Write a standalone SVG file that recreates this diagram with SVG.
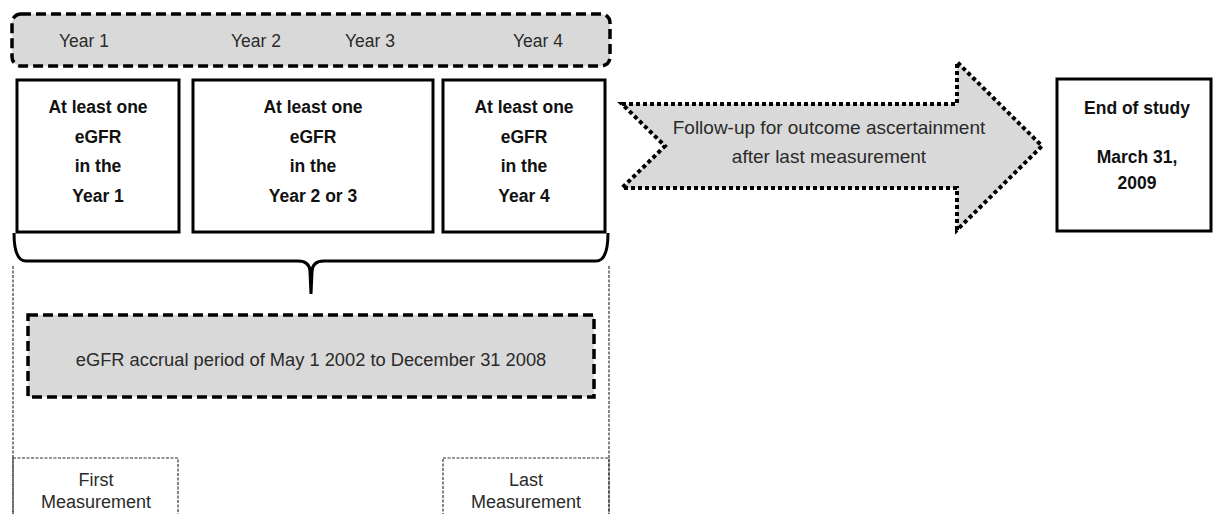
<svg xmlns="http://www.w3.org/2000/svg" width="1213" height="514" viewBox="0 0 1213 514">
<style>
text{font-family:"Liberation Sans",Arial,sans-serif;fill:#2a2a2a;text-anchor:middle}
.b{font-weight:bold;font-size:17.5px;fill:#111}
.n{font-size:17.5px}
.m{font-size:18px}
.solid{fill:#fff;stroke:#000;stroke-width:3}
.gdash{fill:#d9d9d9;stroke:#000;stroke-width:3.5;stroke-dasharray:10 5}
.thin{fill:none;stroke:#333;stroke-width:1.2;stroke-dasharray:3 1.5}
</style>
<rect width="1213" height="514" fill="#fff"/>
<g id="years">
<rect class="gdash" x="12" y="14" width="598" height="52" rx="9"/>
<text class="n" x="84" y="47">Year 1</text>
<text class="n" x="256" y="47">Year 2</text>
<text class="n" x="370" y="47">Year 3</text>
<text class="n" x="538" y="47">Year 4</text>
</g>
<g id="box1">
<rect class="solid" x="17" y="80" width="162" height="152"/>
<text class="b" x="98" y="113">At least one</text>
<text class="b" x="98" y="143">eGFR</text>
<text class="b" x="98" y="172">in the</text>
<text class="b" x="98" y="202">Year 1</text>
</g>
<g id="box2">
<rect class="solid" x="193" y="80" width="240" height="152"/>
<text class="b" x="313" y="113">At least one</text>
<text class="b" x="313" y="143">eGFR</text>
<text class="b" x="313" y="172">in the</text>
<text class="b" x="313" y="202">Year 2 or 3</text>
</g>
<g id="box3">
<rect class="solid" x="443" y="80" width="162" height="152"/>
<text class="b" x="524" y="113">At least one</text>
<text class="b" x="524" y="143">eGFR</text>
<text class="b" x="524" y="172">in the</text>
<text class="b" x="524" y="202">Year 4</text>
</g>
<g id="followup">
<polygon points="622,104 957,104 957,62 1042,146 957,230 957,188 622,188 665,146" fill="#d9d9d9" stroke="#000" stroke-width="4" stroke-dasharray="4 3"/>
<text class="n" x="829" y="134" style="font-size:19px">Follow-up for outcome ascertainment</text>
<text class="n" x="829" y="163" style="font-size:19px">after last measurement</text>
</g>
<g id="end">
<rect class="solid" x="1057" y="79" width="154" height="152"/>
<text class="b" x="1137" y="114">End of study</text>
<text class="b" x="1137" y="163">March 31,</text>
<text class="b" x="1137" y="189">2009</text>
</g>
<g id="connectors">
<path d="M14,233 Q14,261 26,261 L298,261 Q310,261 310,272 L311,294 L312,272 Q312,261 324,261 L596,261 Q608,261 608,233" fill="none" stroke="#000" stroke-width="3"/>
<line class="thin" x1="13" y1="266" x2="13" y2="514"/>
<line class="thin" x1="609" y1="266" x2="609" y2="514"/>
</g>
<g id="accrual">
<rect class="gdash" x="28" y="315" width="566" height="82" stroke-width="4"/>
<text class="n" x="311" y="366" style="font-size:18.3px">eGFR accrual period of May 1 2002 to December 31 2008</text>
</g>
<g id="first">
<rect class="thin" x="13" y="458" width="165" height="70"/>
<text class="m" x="96" y="486">First</text>
<text class="m" x="96" y="508">Measurement</text>
</g>
<g id="last">
<rect class="thin" x="443" y="458" width="166" height="70"/>
<text class="m" x="526" y="486">Last</text>
<text class="m" x="526" y="508">Measurement</text>
</g>
</svg>
